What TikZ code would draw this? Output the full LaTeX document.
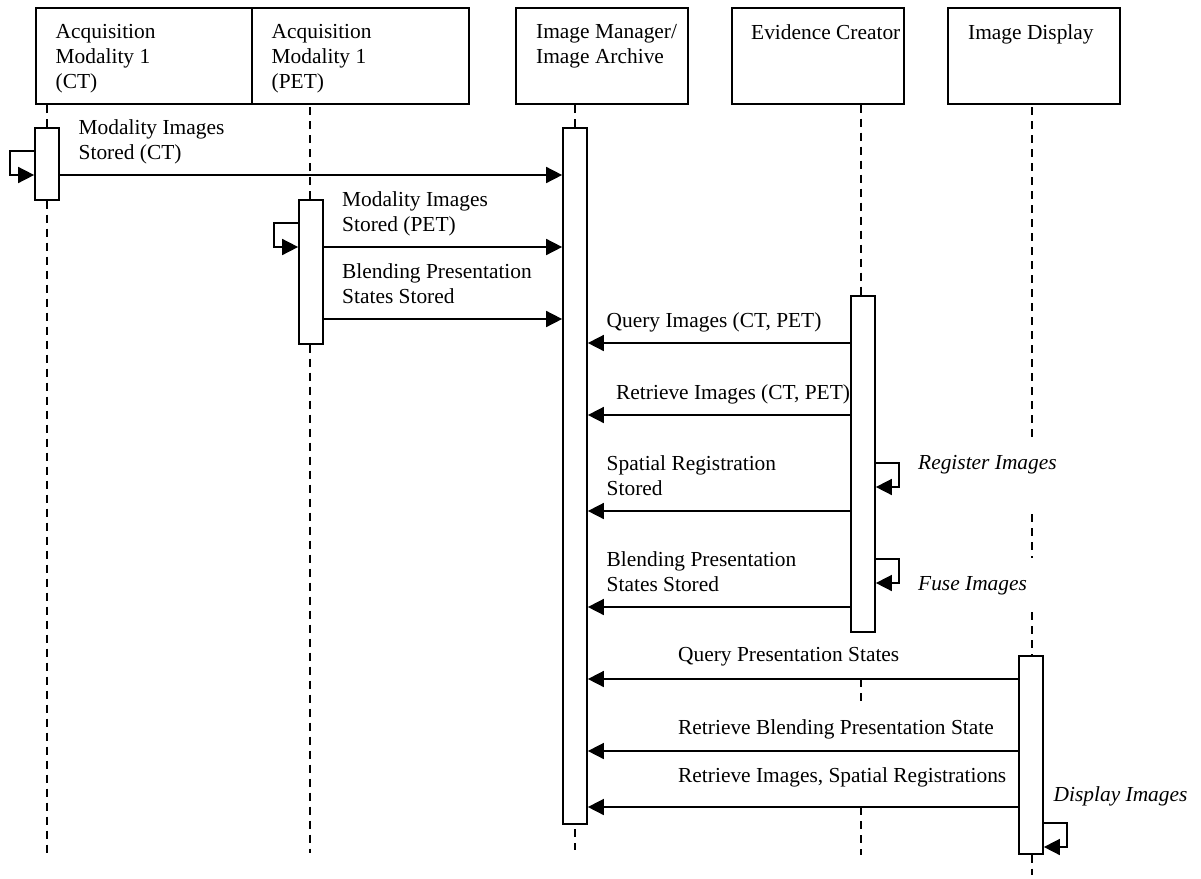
\documentclass[tikz,border=0pt]{standalone}
\usepackage{fontspec}
\setmainfont{Liberation Serif}
\usetikzlibrary{arrows.meta}
\tikzset{
  x=1pt,y=-1pt,
  header/.style={draw,line width=1.7pt,minimum height=96pt,inner sep=0pt,anchor=north west},
  activation/.style={draw,fill=white,line width=1.7pt,minimum width=24pt,inner sep=0pt,anchor=north},
  life/.style={line width=1.7pt,dash pattern=on 8pt off 6pt},
  msg/.style={line width=1.6pt,-{Triangle[length=16pt,width=16pt]}},
  label/.style={anchor=north west,inner sep=0pt,align=left,font=\fontsize{21.4}{25.2}\selectfont},
  note/.style={label,font=\fontsize{21.4}{25.2}\selectfont\itshape}
}
\begin{document}
\begin{tikzpicture}
\useasboundingbox (0,0) rectangle (1201,878);
% free ends of the lifelines
\coordinate (e1) at (47,855);
\coordinate (e2) at (310,853);
\coordinate (e3top) at (575,829);
\coordinate (e3) at (575,850);
\coordinate (e4a) at (861,701);
\coordinate (e4b) at (861,855);
\coordinate (e5top) at (1032,107);
\coordinate (e5a) at (1032,437);
\coordinate (e5b) at (1032,514);
\coordinate (e5c) at (1032,558);
\coordinate (e5d) at (1032,612);
\coordinate (e5e) at (1032,875);

% headers
\node[header,minimum width=216pt] (h1) at (35,7) {};
\node[header,minimum width=217pt] (h2) at (251,7) {};
\node[header,minimum width=172pt] (h3) at (515,7) {};
\node[header,minimum width=172pt] (h4) at (731,7) {};
\node[header,minimum width=172pt] (h5) at (947,7) {};

% activations
\node[activation,minimum height=72pt] (a1) at (47,127) {};
\node[activation,minimum height=144pt] (a2) at (311,199) {};
\node[activation,minimum height=696pt] (a3) at (575,127) {};
\node[activation,minimum height=336pt] (a4) at (863,295) {};
\node[activation,minimum height=198pt] (a5) at (1031,655) {};

% lifelines
\draw[life] (a1.north) -- (a1.north|-h1.south);
\draw[life] (a1.south) -- (e1);
\draw[life] (e2|-a2.north) -- (e2|-h2.south);
\draw[life] (e2|-a2.south) -- (e2);
\draw[life] (a3.north) -- (a3.north|-h3.south);
\draw[life] (e3top) -- (e3);
\draw[life] (e4a|-h4.south) -- (e4a|-a4.north);
\draw[life] (e4a|-0,679) -- (e4a);
\draw[life] (e4b|-0,807) -- (e4b);
\draw[life] (e5top) -- (e5a);
\draw[life] (e5b) -- (e5c);
\draw[life] (e5d) -- (e5d|-a5.north);
\draw[life] (e5e|-a5.south) -- (e5e);

% messages
\draw[msg] (a1.east|-0,175) -- (a3.west|-0,175);
\draw[msg] (a2.east|-0,247) -- (a3.west|-0,247);
\draw[msg] (a2.east|-0,319) -- (a3.west|-0,319);
\draw[msg] (a4.west|-0,343) -- (a3.east|-0,343);
\draw[msg] (a4.west|-0,415) -- (a3.east|-0,415);
\draw[msg] (a4.west|-0,511) -- (a3.east|-0,511);
\draw[msg] (a4.west|-0,607) -- (a3.east|-0,607);
\draw[msg] (a5.west|-0,679) -- (a3.east|-0,679);
\draw[msg] (a5.west|-0,751) -- (a3.east|-0,751);
\draw[msg] (a5.west|-0,807) -- (a3.east|-0,807);

% self messages
\draw[msg] (a1.west|-0,151) -| (10,175) -- (a1.west|-0,175);
\draw[msg] (a2.west|-0,223) -| (274,247) -- (a2.west|-0,247);
\draw[msg] (a4.east|-0,463) -| (899,487) -- (a4.east|-0,487);
\draw[msg] (a4.east|-0,559) -| (899,583) -- (a4.east|-0,583);
\draw[msg] (a5.east|-0,823) -| (1067,847) -- (a5.east|-0,847);

% header texts
\node[label] (t1) at (55.5,24) {Acquisition\\Modality 1\\(CT)};
\node[label] (t2) at (271.5,24) {Acquisition\\Modality 1\\(PET)};
\node[label] (t3) at (536,24) {Image Manager/\\Image Archive};
\node[label] (t4) at (751,24) {Evidence Creator};
\node[label] (t5) at (968,24) {Image Display};

% message texts
\node[label] (m1) at (78.5,119) {Modality Images\\Stored (CT)};
\node[label] (m2) at (342,191) {Modality Images\\Stored (PET)};
\node[label] (m3) at (342,263) {Blending Presentation\\States Stored};
\node[label] (m4) at (606.5,312) {Query Images (CT, PET)};
\node[label] (m5) at (616,384) {Retrieve Images (CT, PET)};
\node[label] (m6) at (606.5,455) {Spatial Registration\\Stored};
\node[label] (m7) at (606.5,551) {Blending Presentation\\States Stored};
\node[label] (m8) at (678,647) {Query Presentation States};
\node[label] (m9) at (678,719) {Retrieve Blending Presentation State};
\node[label] (m10) at (678,767) {Retrieve Images, Spatial Registrations};
\node[note] (n1) at (918,455) {Register Images};
\node[note] (n2) at (918,576) {Fuse Images};
\node[note] (n3) at (1053.5,786) {Display Images};
\end{tikzpicture}
\end{document}
